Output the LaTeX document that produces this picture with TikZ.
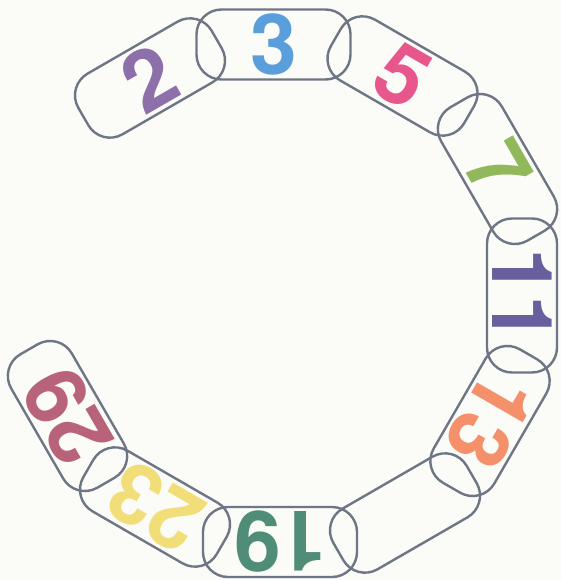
\documentclass[tikz,border=0pt]{standalone}
\usepackage{fontspec}
\setmainfont{TeX Gyre Heros}
\definecolor{linkgray}{HTML}{6E7686}
\definecolor{paper}{HTML}{FBFBF7}
\definecolor{c2}{HTML}{8D6FA9}
\definecolor{c3}{HTML}{5A9FDC}
\definecolor{c5}{HTML}{E8578C}
\definecolor{c7}{HTML}{92B85C}
\definecolor{c11}{HTML}{675F9E}
\definecolor{c13}{HTML}{F4906A}
\definecolor{c19}{HTML}{4F8D78}
\definecolor{c23}{HTML}{F2DE78}
\definecolor{c29}{HTML}{B9637A}
\newcommand{\bignum}[1]{\fontsize{84}{84}\selectfont\bfseries #1}
\tikzset{
  linkpath/.style={draw=linkgray, line width=2.4pt, rounded corners=25pt},
  numlabel/.style={inner sep=0pt, anchor=center},
}
\newcommand{\chainlink}[5]{%
  \begin{scope}[shift={(#1pt,#2pt)}, rotate=#3]
    \draw[linkpath] (-77pt,-35pt) rectangle (77pt,35pt);
    \node[numlabel, text=#4, transform shape] (t#5) at (0,0) {\bignum{#5}};
  \end{scope}}
\begin{document}
\begin{tikzpicture}
\fill[paper] (0pt,0pt) rectangle (561pt,-580pt);
\useasboundingbox (0pt,0pt) rectangle (561pt,-580pt);
\chainlink{150}{-78}{30}{c2}{2}
\chainlink{273.5}{-44.5}{0}{c3}{3}
\chainlink{402.5}{-76}{-30}{c5}{5}
\chainlink{497.5}{-169}{-60}{c7}{7}
\chainlink{522}{-295.5}{-90}{c11}{11}
\chainlink{490}{-421}{-120}{c13}{13}
\chainlink{405}{-513}{-150}{paper}{}
\chainlink{280}{-542}{180}{c19}{19}
\chainlink{155}{-507}{150}{c23}{23}
\chainlink{67.5}{-416}{120}{c29}{29}
\end{tikzpicture}
\end{document}
